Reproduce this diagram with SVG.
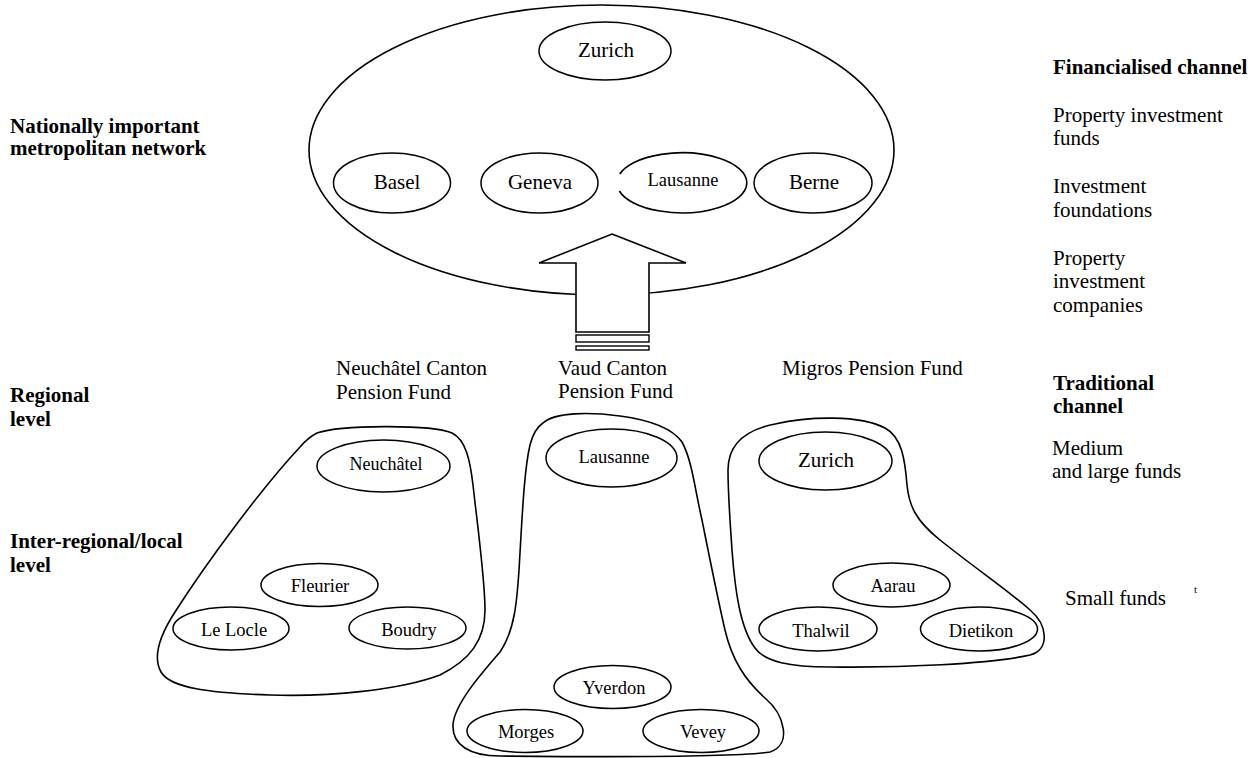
<svg xmlns="http://www.w3.org/2000/svg" width="1251" height="758" viewBox="0 0 1251 758" font-family="'Liberation Serif', 'Times New Roman', Times, 'DejaVu Serif', serif">
<style>
text{font-family:'Liberation Serif','Times New Roman',Times,'DejaVu Serif',serif;fill:#000}
.b{font-weight:bold;font-size:21px}
.r{font-size:21px}
.n{font-size:21px;text-anchor:middle}
.s{font-size:18.5px;text-anchor:middle}
.o{fill:none;stroke:#000;stroke-width:1.6}
.e{fill:#fff;stroke:#000;stroke-width:1.5}
</style>
<rect width="1251" height="758" fill="#fff"/>

<g id="national">
<ellipse class="o" cx="601.5" cy="150" rx="292.5" ry="145"/>
</g>
<g id="zurich-top"><ellipse class="e" cx="605" cy="51" rx="66" ry="29"/><text class="n" x="606" y="57">Zurich</text></g>
<g id="basel"><ellipse class="e" cx="392" cy="183" rx="58.5" ry="30"/><text class="n" x="397" y="189">Basel</text></g>
<g id="geneva"><ellipse class="e" cx="539.5" cy="183" rx="58.5" ry="30"/><text class="n" x="540" y="189">Geneva</text></g>
<g id="lausanne-top"><path class="o" d="M 619.7 174 A 65 30 0 1 1 619.3 191"/><text class="s" x="683" y="186">Lausanne</text></g>
<g id="berne"><ellipse class="e" cx="813" cy="183" rx="59" ry="30"/><text class="n" x="814" y="189">Berne</text></g>

<g id="connectors">
<polygon points="612,234 686,263 649,263 649,332 576,332 576,263 539,263" fill="#fff" stroke="#000" stroke-width="1.6"/>
<rect x="576" y="335" width="73" height="7" fill="#fff" stroke="#000" stroke-width="1.4"/>
<rect x="576" y="346" width="73" height="4" fill="#fff" stroke="#000" stroke-width="1.4"/>
</g>

<g id="neuchatel-group">
<path class="o" d="M 317,433 C 340,425 430,424 452,433 C 466,440 470,460 473,485 C 478,530 485,580 485,610 C 485,640 470,660 440,675 C 400,690 330,697 270,695 C 210,693 170,688 161,672 C 152,656 162,632 175,612 C 205,565 260,490 300,447 C 306,440 311,436 317,433 Z"/>
</g>
<g id="neuchatel"><ellipse class="e" cx="383.5" cy="466" rx="66.5" ry="26"/><text class="s" x="386" y="470" style="font-size:18px">Neuchâtel</text></g>
<g id="fleurier"><ellipse class="e" cx="319.5" cy="585" rx="58.5" ry="21.5"/><text class="s" x="320" y="592">Fleurier</text></g>
<g id="lelocle"><ellipse class="e" cx="231" cy="628.5" rx="58" ry="21.5"/><text class="s" x="234" y="636">Le Locle</text></g>
<g id="boudry"><ellipse class="e" cx="407.5" cy="628" rx="58.5" ry="21"/><text class="s" x="409" y="636">Boudry</text></g>

<g id="vaud-group">
<path class="o" d="M 543,423 C 555,412 590,412 620,416 C 650,420 672,428 682,442 C 692,460 695,490 702,520 C 710,560 718,600 725,630 C 732,660 745,680 765,698 C 785,715 792,745 770,752 C 740,757 600,757 500,756 C 470,756 452,745 453,725 C 454,705 480,675 500,652 C 515,630 517,600 519,570 C 522,520 524,470 530,445 C 533,433 537,427 543,423 Z"/>
</g>
<g id="lausanne"><ellipse class="e" cx="611.5" cy="458" rx="65.5" ry="29"/><text class="s" x="614" y="463">Lausanne</text></g>
<g id="yverdon"><ellipse class="e" cx="612.5" cy="687" rx="58.5" ry="21.5"/><text class="s" x="614" y="694">Yverdon</text></g>
<g id="morges"><ellipse class="e" cx="525" cy="731" rx="58" ry="21.5"/><text class="s" x="526" y="738">Morges</text></g>
<g id="vevey"><ellipse class="e" cx="701" cy="731" rx="58" ry="21.5"/><text class="s" x="703" y="738">Vevey</text></g>

<g id="migros-group">
<path class="o" d="M 728,470 C 728,445 745,430 775,424 C 810,416 860,415 885,428 C 902,437 905,460 907,485 C 909,505 915,520 940,540 C 975,568 1010,592 1030,610 C 1048,625 1050,650 1030,655 C 990,664 900,668 830,667 C 790,667 765,662 755,648 C 740,628 735,590 732,550 C 730,520 728,495 728,470 Z"/>
</g>
<g id="zurich"><ellipse class="e" cx="825.5" cy="461" rx="66.5" ry="29"/><text class="n" x="826" y="467">Zurich</text></g>
<g id="aarau"><ellipse class="e" cx="891.5" cy="585" rx="58.5" ry="22"/><text class="s" x="893" y="592">Aarau</text></g>
<g id="thalwil"><ellipse class="e" cx="818" cy="629" rx="59" ry="22"/><text class="s" x="821" y="637">Thalwil</text></g>
<g id="dietikon"><ellipse class="e" cx="979" cy="629" rx="58.5" ry="22"/><text class="s" x="981" y="637">Dietikon</text></g>

<g id="labels">
<text class="b" x="10" y="133">Nationally important</text>
<text class="b" x="10" y="155">metropolitan network</text>
<text class="b" x="10" y="402">Regional</text>
<text class="b" x="10" y="426">level</text>
<text class="b" x="10" y="548">Inter-regional/local</text>
<text class="b" x="10" y="572">level</text>

<text class="r" x="336" y="375">Neuchâtel Canton</text>
<text class="r" x="336" y="399">Pension Fund</text>
<text class="r" x="558" y="375">Vaud Canton</text>
<text class="r" x="558" y="398">Pension Fund</text>
<text class="r" x="782" y="375">Migros Pension Fund</text>

<text class="b" x="1053" y="74">Financialised channel</text>
<text class="r" x="1053" y="122">Property investment</text>
<text class="r" x="1053" y="145">funds</text>
<text class="r" x="1053" y="193">Investment</text>
<text class="r" x="1053" y="217">foundations</text>
<text class="r" x="1053" y="265">Property</text>
<text class="r" x="1053" y="288">investment</text>
<text class="r" x="1053" y="312">companies</text>

<text class="b" x="1053" y="390">Traditional</text>
<text class="b" x="1053" y="413">channel</text>
<text class="r" x="1052" y="455">Medium</text>
<text class="r" x="1052" y="478">and large funds</text>
<text class="r" x="1065" y="605">Small funds</text>
<text x="1194" y="593" style="font-size:11px">t</text>
</g>
</svg>
